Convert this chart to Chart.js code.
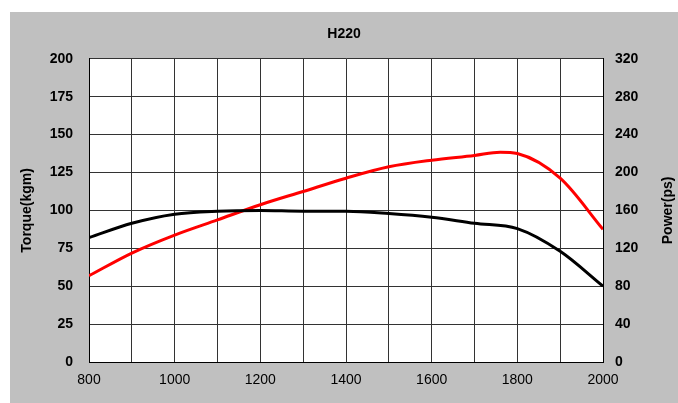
<!DOCTYPE html>
<html>
<head>
<meta charset="utf-8">
<script src="https://cdn.jsdelivr.net/npm/chart.js@4"></script>
<style>
  html, body { margin: 0; padding: 0; background: #fff; }
  #wrap { position: absolute; left: 10px; top: 12px; width: 668px; height: 391px; background: #c0c0c0; }
</style>
</head>
<body>
<div id="wrap"><canvas id="engineChart"></canvas></div>
<script>
// rpm / torque(kgm) / power(ps)
const rpm = [800, 900, 1000, 1100, 1200, 1300, 1400, 1500, 1600, 1700, 1800, 1900, 2000];
const torque = [82, 91.5, 97.5, 99.5, 100, 99.5, 99.5, 98, 95.5, 91.5, 88, 73, 50];
const powerRpm = [800, 900, 1000, 1100, 1200, 1300, 1400, 1500, 1600, 1700, 1760, 1800, 1900, 2000];
const power = [91, 115, 134, 150, 166, 180, 194, 206, 213, 218, 221.5, 220, 194, 140];

const torqueTicks = [0, 25, 50, 75, 100, 125, 150, 175, 200];
const powerTicks = [0, 40, 80, 120, 160, 200, 240, 280, 320];

// プロット領域を白く塗る
const whiteArea = {
  id: 'whiteArea',
  beforeDraw(chart) {
    const a = chart.chartArea;
    chart.ctx.save();
    chart.ctx.fillStyle = '#fff';
    chart.ctx.fillRect(a.left, a.top, a.right - a.left, a.bottom - a.top);
    chart.ctx.restore();
  }
};

// 右軸タイトルは下から上に読む向き
const rightTitle = {
  id: 'rightTitle',
  afterDraw(chart) {
    const c = chart.ctx;
    const a = chart.chartArea;
    c.save();
    c.translate(658, (a.top + a.bottom) / 2);
    c.rotate(-Math.PI / 2);
    c.font = 'bold 14px "Liberation Sans", Arial, sans-serif';
    c.fillStyle = '#000';
    c.textAlign = 'center';
    c.textBaseline = 'middle';
    c.fillText('Power(ps)', 0, 0);
    c.restore();
  }
};

const gridCol = '#333';

new Chart(document.getElementById('engineChart'), {
  type: 'line',
  data: {
    datasets: [{
      label: 'Torque',
      data: rpm.map((r, i) => ({ x: r, y: torque[i] })),
      borderColor: '#000',
      borderWidth: 3,
      pointRadius: 0,
      cubicInterpolationMode: 'monotone',
      yAxisID: 'y'
    }, {
      label: 'Power',
      data: powerRpm.map((r, i) => ({ x: r, y: power[i] })),
      borderColor: '#ff0000',
      borderWidth: 3,
      pointRadius: 0,
      cubicInterpolationMode: 'monotone',
      yAxisID: 'y1'
    }]
  },
  options: {
    responsive: true,
    maintainAspectRatio: false,
    animation: false,
    layout: { padding: 0 },
    scales: {
      x: {
        type: 'linear',
        min: 800,
        max: 2000,
        ticks: {
          stepSize: 100,
          padding: 10,
          color: '#000',
          font: { family: '"Liberation Sans", Arial, sans-serif', size: 14 },
          callback: v => (v % 200 === 0 ? v : '')
        },
        grid: { color: gridCol, drawTicks: false },
        border: { color: '#000' },
        afterFit: s => { s.height = 41; }
      },
      y: {
        position: 'left',
        min: 0,
        max: 200,
        afterBuildTicks: s => { s.ticks = torqueTicks.map(v => ({ value: v })); },
        ticks: {
          padding: 16,
          color: '#000',
          font: { family: '"Liberation Sans", Arial, sans-serif', size: 14, weight: 'bold' }
        },
        grid: { color: gridCol, drawTicks: false },
        border: { color: '#000' },
        title: {
          display: true,
          text: 'Torque(kgm)',
          color: '#000',
          padding: { top: 9, bottom: 0 },
          font: { family: '"Liberation Sans", Arial, sans-serif', size: 14, weight: 'bold' }
        },
        afterFit: s => { s.width = 79; }
      },
      y1: {
        position: 'right',
        min: 0,
        max: 320,
        afterBuildTicks: s => { s.ticks = powerTicks.map(v => ({ value: v })); },
        ticks: {
          padding: 12,
          color: '#000',
          font: { family: '"Liberation Sans", Arial, sans-serif', size: 14, weight: 'bold' }
        },
        grid: { drawOnChartArea: false, drawTicks: false },
        border: { color: '#000' },
        afterFit: s => { s.width = 75; }
      }
    },
    plugins: {
      legend: { display: false },
      tooltip: { enabled: false },
      title: {
        display: true,
        text: 'H220',
        color: '#000',
        padding: { top: 14, bottom: 16 },
        font: { family: '"Liberation Sans", Arial, sans-serif', size: 14, weight: 'bold' }
      }
    }
  },
  plugins: [whiteArea, rightTitle]
});
</script>
</body>
</html>
